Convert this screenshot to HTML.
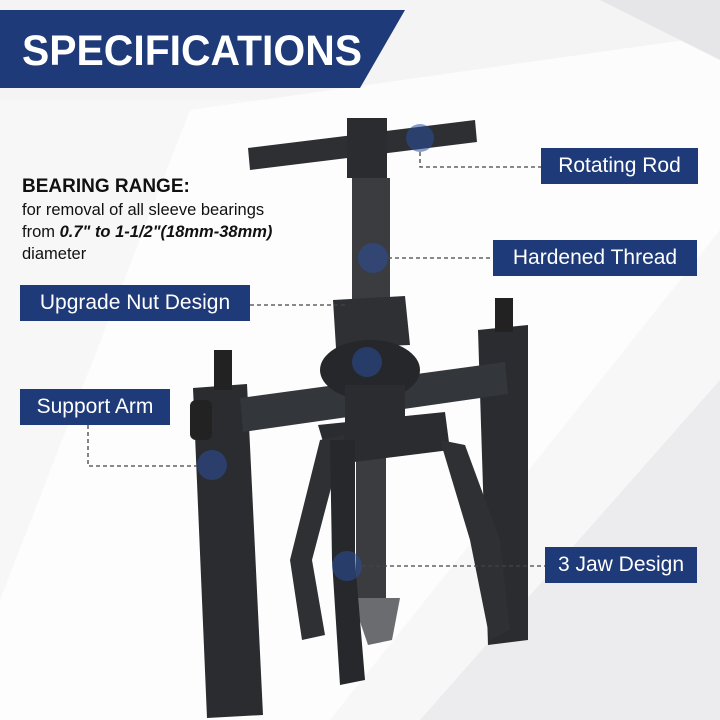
<!DOCTYPE html>
<html><head><meta charset="utf-8"><style>
html,body{margin:0;padding:0}
body{width:720px;height:720px;position:relative;overflow:hidden;background:#f4f4f5;font-family:"Liberation Sans",sans-serif}
.lbl{position:absolute;background:#1e3a78;color:#fff;font-size:21px;line-height:36px;height:36px;text-align:center;white-space:nowrap}
</style></head><body>
<svg width="720" height="720" style="position:absolute;left:0;top:0">
<polygon points="0,100 720,100 720,720 0,720" fill="#f7f7f8"/>
<polygon points="190,110 720,35 720,230 330,720 0,720 0,600" fill="#ffffff" opacity="0.7"/>
<polygon points="420,720 720,380 720,720" fill="#ececee"/>
<polygon points="600,0 720,0 720,60" fill="#e6e6e8"/>
<polygon points="0,10 405,10 360,88 0,88" fill="#1e3a78"/>
<text x="22" y="65" font-family="Liberation Sans" font-weight="bold" font-size="43" fill="#fff" textLength="340" lengthAdjust="spacingAndGlyphs">SPECIFICATIONS</text>
<!-- legs -->
<polygon points="193,388 247,384 263,715 207,718" fill="#2a2c2f"/>
<polygon points="478,330 528,325 528,640 488,645" fill="#2a2c2f"/>
<rect x="214" y="350" width="18" height="40" fill="#222"/>
<rect x="495" y="298" width="18" height="34" fill="#222"/>
<!-- crossbar -->
<polygon points="240,398 505,362 508,394 243,432" fill="#33363a"/>
<rect x="190" y="400" width="22" height="40" rx="6" fill="#222"/>
<!-- handle -->
<polygon points="248,148 475,120 477,142 250,170" fill="#2d2f32"/>
<rect x="347" y="118" width="40" height="60" fill="#2a2c2f"/>
<rect x="352" y="178" width="38" height="122" fill="#3a3c40"/>
<polygon points="333,300 405,296 410,345 336,348" fill="#2e3034"/>
<ellipse cx="370" cy="370" rx="50" ry="30" fill="#25272a"/>
<rect x="345" y="385" width="60" height="45" fill="#2a2c2f"/>
<!-- lower thread -->
<rect x="356" y="440" width="30" height="160" fill="#3a3c40"/>
<polygon points="352,598 400,598 392,640 368,645" fill="#6a6c70"/>
<!-- jaws -->
<polygon points="318,425 445,412 450,450 330,465" fill="#2a2c2f"/>
<polygon points="320,440 345,435 312,560 325,635 302,640 290,560" fill="#2e3034"/>
<polygon points="440,440 465,445 500,540 510,630 490,640 470,540" fill="#2e3034"/>
<polygon points="330,440 355,440 355,560 365,680 340,685 332,560" fill="#26282b"/>
<!-- circles -->
<g fill="#2c4e9e" opacity="0.55">
<circle cx="420" cy="138" r="14"/><circle cx="373" cy="258" r="15"/>
<circle cx="367" cy="362" r="15"/><circle cx="212" cy="465" r="15"/><circle cx="347" cy="566" r="15"/>
</g>
<g stroke="#444" stroke-width="1.3" stroke-dasharray="4,3" fill="none">
<polyline points="420,152 420,167 541,167"/>
<polyline points="388,258 493,258"/>
<polyline points="250,305 345,305"/>
<polyline points="88,425 88,466 197,466"/>
<polyline points="362,566 545,566"/>
</g>
</svg>
<div style="position:absolute;left:22px;top:176px;font-size:19px;font-weight:bold;color:#111">BEARING RANGE:</div>
<div style="position:absolute;left:22px;top:199px;font-size:16.5px;line-height:22px;color:#111">for removal of all sleeve bearings<br>from <b><i>0.7" to 1-1/2"(18mm-38mm)</i></b><br>diameter</div>
<div class="lbl" style="left:541px;top:148px;width:157px">Rotating Rod</div>
<div class="lbl" style="left:493px;top:240px;width:204px">Hardened Thread</div>
<div class="lbl" style="left:20px;top:285px;width:230px">Upgrade Nut Design</div>
<div class="lbl" style="left:20px;top:389px;width:150px">Support Arm</div>
<div class="lbl" style="left:545px;top:547px;width:152px">3 Jaw Design</div>
</body></html>
